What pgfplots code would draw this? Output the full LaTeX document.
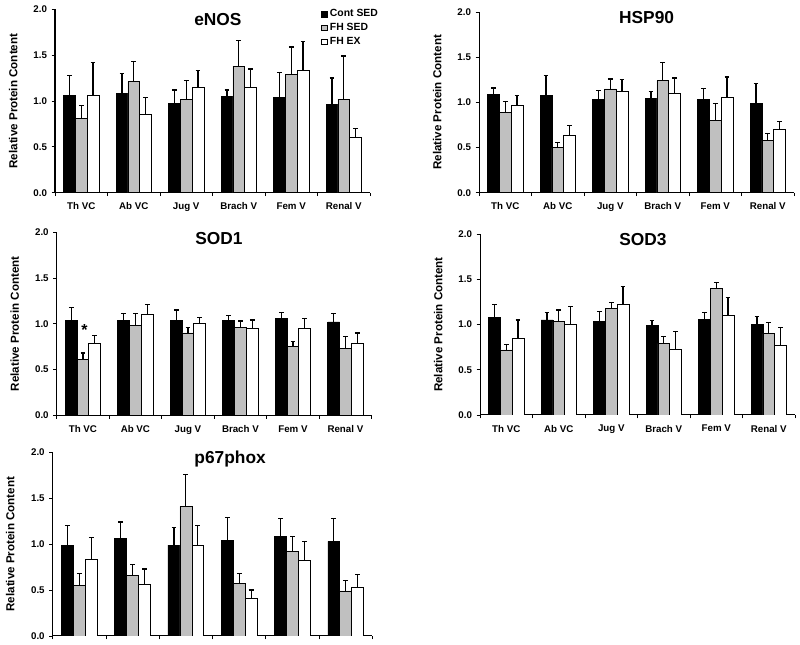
\documentclass[border=0pt]{standalone}
\usepackage{fontspec}
\setmainfont{Liberation Sans}
\usepackage{pgfplots}
\pgfplotsset{compat=1.18}
\definecolor{barGray}{RGB}{192,192,192}
\pgfplotsset{
  panel/.style={
    scale only axis, width=236.25pt, anchor=south west,
    axis lines=left, axis line style={-, line width=0.75pt},
    xmin=-0.5, xmax=5.5, ymin=0, ymax=2,
    ytick={0,0.5,1,1.5,2},
    yticklabel style={/pgf/number format/fixed, /pgf/number format/fixed zerofill, /pgf/number format/precision=1},
    /pgf/number format/assume math mode=true,
    xtick={-0.5,0.5,1.5,2.5,3.5,4.5,5.5}, xticklabels={},
    extra x ticks={0,1,2,3,4,5},
    extra x tick labels={Th VC,Ab VC,Jug V,Brach V,Fem V,Renal V},
    extra x tick style={major tick length=0pt},
    tick align=outside, major tick length=2.5pt,
    tick style={black, line width=0.6pt},
    ticklabel style={font=\fontsize{7.3}{8}\selectfont\bfseries},
    xticklabel style={yshift=-4pt},
    ylabel={Relative Protein Content},
    ylabel style={at={(axis description cs:-0.133,0.5)}, anchor=center, font=\fontsize{8.7}{10}\selectfont\bfseries},
    title style={anchor=base, yshift=-6pt, font=\fontsize{13}{15}\selectfont\bfseries},
    ybar, bar width=0.224,
    legend image code/.code={\draw[##1, draw=black, line width=0.4pt] (0pt,-2pt) rectangle (4pt,2pt);},
  },
  bk/.style={fill=black, draw=black, line width=0.5pt, bar shift=-0.224},
  gy/.style={fill=barGray, draw=black, line width=0.5pt, bar shift=0},
  wh/.style={fill=white, draw=black, line width=0.5pt, bar shift=0.224},
  eb/.style={error bars/.cd, y dir=plus, y explicit, error mark=-,
    error bar style={line width=0.9pt, black, solid},
    error mark options={rotate=90, line width=0.9pt, black, mark size=1.8pt}},
}
\begin{document}
\begin{tikzpicture}
\path[use as bounding box] (0,0) rectangle (600pt,483.75pt);
% eNOS
\begin{axis}[panel, at={(41.25pt,339.2pt)}, height=137.55pt,
  title={eNOS}, title style={at={(axis description cs:0.517,0.91)}},
  legend style={at={(axis description cs:0.845,1.015)}, anchor=north west, draw=none, fill=none,
    font=\fontsize{7.8}{9}\selectfont\bfseries, row sep=-0.6pt, inner sep=0pt,
    /tikz/every even column/.append style={column sep=0pt}},
  legend cell align=left]
\addplot[bk, eb] coordinates {(0,1.06)+-(0,0.22) (1,1.08)+-(0,0.22) (2,0.97)+-(0,0.15) (3,1.05)+-(0,0.07) (4,1.04)+-(0,0.27) (5,0.96)+-(0,0.29)};
\addplot[gy, eb] coordinates {(0,0.81)+-(0,0.14) (1,1.21)+-(0,0.22) (2,1.02)+-(0,0.20) (3,1.38)+-(0,0.28) (4,1.29)+-(0,0.30) (5,1.02)+-(0,0.47)};
\addplot[wh, eb] coordinates {(0,1.06)+-(0,0.36) (1,0.85)+-(0,0.19) (2,1.15)+-(0,0.18) (3,1.15)+-(0,0.20) (4,1.33)+-(0,0.32) (5,0.60)+-(0,0.10)};
\legend{Cont SED,FH SED,FH EX}
\end{axis}
% HSP90
\begin{axis}[panel, at={(359.25pt,339.2pt)}, height=135.5pt,
  title={HSP90}, title style={at={(axis description cs:0.532,0.934)}}]
\addplot[bk, eb] coordinates {(0,1.09)+-(0,0.07) (1,1.08)+-(0,0.22) (2,1.03)+-(0,0.10) (3,1.04)+-(0,0.08) (4,1.03)+-(0,0.12) (5,0.99)+-(0,0.22)};
\addplot[gy, eb] coordinates {(0,0.89)+-(0,0.12) (1,0.50)+-(0,0.06) (2,1.15)+-(0,0.11) (3,1.24)+-(0,0.20) (4,0.80)+-(0,0.19) (5,0.58)+-(0,0.08)};
\addplot[wh, eb] coordinates {(0,0.97)+-(0,0.11) (1,0.63)+-(0,0.11) (2,1.12)+-(0,0.13) (3,1.10)+-(0,0.17) (4,1.06)+-(0,0.22) (5,0.70)+-(0,0.09)};
\end{axis}
% SOD1
\begin{axis}[panel, at={(42.5pt,172.3pt)}, height=137.25pt,
  title={SOD1}, title style={at={(axis description cs:0.515,0.934)}}]
\addplot[bk, eb] coordinates {(0,1.04)+-(0,0.14) (1,1.04)+-(0,0.07) (2,1.04)+-(0,0.11) (3,1.04)+-(0,0.05) (4,1.06)+-(0,0.06) (5,1.02)+-(0,0.09)};
\addplot[gy, eb] coordinates {(0,0.61)+-(0,0.07) (1,0.98)+-(0,0.13) (2,0.90)+-(0,0.06) (3,0.96)+-(0,0.07) (4,0.75)+-(0,0.06) (5,0.73)+-(0,0.13)};
\addplot[wh, eb] coordinates {(0,0.79)+-(0,0.08) (1,1.10)+-(0,0.11) (2,1.01)+-(0,0.06) (3,0.95)+-(0,0.09) (4,0.95)+-(0,0.11) (5,0.79)+-(0,0.11)};
\node[font=\fontsize{12}{12}\selectfont\bfseries] at (axis cs:0.03,0.93) {*};
\end{axis}
% SOD3
\begin{axis}[panel, at={(360pt,172.5pt)}, height=135.75pt,
  title={SOD3}, title style={at={(axis description cs:0.517,0.935)}}]
\addplot[bk, eb] coordinates {(0,1.08)+-(0,0.14) (1,1.05)+-(0,0.08) (2,1.03)+-(0,0.11) (3,0.99)+-(0,0.05) (4,1.06)+-(0,0.07) (5,1.00)+-(0,0.09)};
\addplot[gy, eb] coordinates {(0,0.72)+-(0,0.06) (1,1.03)+-(0,0.13) (2,1.18)+-(0,0.06) (3,0.79)+-(0,0.08) (4,1.40)+-(0,0.06) (5,0.90)+-(0,0.12)};
\addplot[wh, eb] coordinates {(0,0.85)+-(0,0.20) (1,1.00)+-(0,0.20) (2,1.22)+-(0,0.20) (3,0.73)+-(0,0.19) (4,1.10)+-(0,0.20) (5,0.77)+-(0,0.20)};
\end{axis}
% p67phox
\begin{axis}[panel, at={(39.5pt,6.75pt)}, width=239.8pt, height=137.8pt,
  extra x tick labels={},
  title={p67phox}, title style={at={(axis description cs:0.555,0.94)}}]
\addplot[bk, eb] coordinates {(0,0.99)+-(0,0.21) (1,1.06)+-(0,0.18) (2,0.99)+-(0,0.19) (3,1.04)+-(0,0.25) (4,1.08)+-(0,0.20) (5,1.03)+-(0,0.25)};
\addplot[gy, eb] coordinates {(0,0.55)+-(0,0.13) (1,0.66)+-(0,0.12) (2,1.41)+-(0,0.35) (3,0.57)+-(0,0.11) (4,0.92)+-(0,0.16) (5,0.49)+-(0,0.11)};
\addplot[wh, eb] coordinates {(0,0.83)+-(0,0.24) (1,0.56)+-(0,0.17) (2,0.99)+-(0,0.21) (3,0.41)+-(0,0.09) (4,0.82)+-(0,0.21) (5,0.53)+-(0,0.14)};
\end{axis}
\end{tikzpicture}
\end{document}
